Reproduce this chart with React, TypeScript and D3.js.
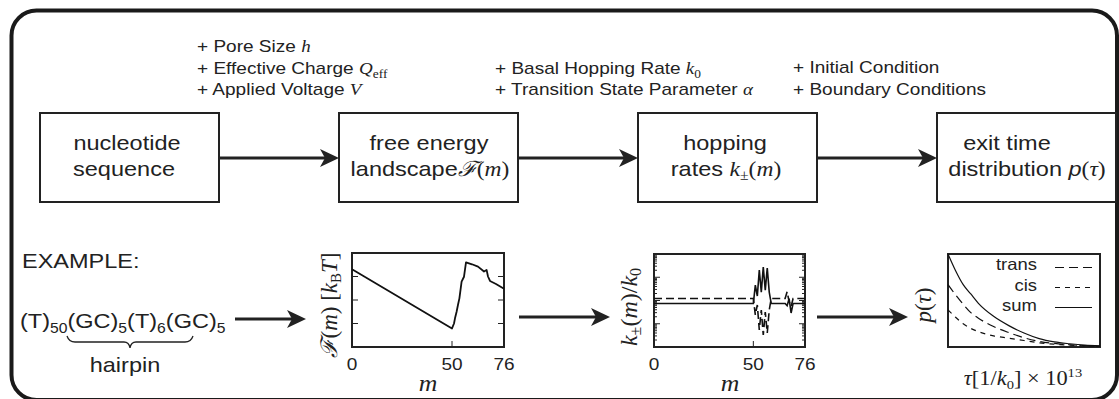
import React from 'react'
import * as d3 from 'd3'

// free energy landscape F(m) [kBT]
const fM = [0, 50, 51, 51.5, 52.3, 53, 53.7, 54.8, 56, 57, 60, 63, 66, 67.3, 68, 69, 72, 76]
const fVal = [3.31, 0.79, 1.0, 1.22, 1.5, 1.8, 2.07, 2.78, 2.99, 3.6, 3.52, 3.42, 3.21, 3.28, 3.0, 2.81, 2.68, 2.48]

// hopping rates k+/k0 (dashed) and k-/k0 (solid)
const kM = [0, 50, 51, 52, 53, 54, 55, 56, 57, 58, 59, 66, 67, 68, 69, 70, 76]
const kPlus = [1.22, 1.22, 0.24, 0.64, 0.054, 0.39, 0.033, 0.32, 0.04, 0.39, 1.22, 1.22, 2.4, 0.9, 0.55, 1.22, 1.22]
const kMinus = [0.74, 0.74, 4.6, 1.56, 20.5, 2.3, 27.6, 2.8, 25, 2.3, 0.74, 0.74, 0.6, 1.2, 0.29, 0.74, 0.74]

// exit time distributions
const tau = [0, 0.5, 1, 1.5, 2, 3, 4, 5, 6, 7, 8, 9, 10]
const pSum = [1.0, 0.82, 0.67, 0.57, 0.47, 0.33, 0.23, 0.15, 0.09, 0.055, 0.035, 0.02, 0.012]
const pTrans = [0.67, 0.56, 0.46, 0.37, 0.31, 0.22, 0.155, 0.1, 0.06, 0.038, 0.024, 0.015, 0.009]
const pCis = [0.4, 0.32, 0.25, 0.2, 0.165, 0.12, 0.095, 0.07, 0.045, 0.03, 0.02, 0.012, 0.007]

const mTicks = [0, 50, 76]
const fTicks = [1, 2, 3]
const legendItems = ['trans', 'cis', 'sum']
const legendDash = ['9,5', '5,5', null]

const SX = 1.12
const SANS = '"Liberation Sans", Arial, Helvetica, sans-serif'
const SERIF = '"Liberation Serif", "DejaVu Serif", serif'

const Txt = ({ x, y, size, anchor = 'start', family = SANS, children }: any) => (
  <text
    transform={`translate(${x},${y}) scale(${SX},1)`}
    fontSize={size}
    fontFamily={family}
    textAnchor={anchor}
    fill="#222"
  >
    {children}
  </text>
)

const Mi = ({ children, italic = true }: any) => (
  <tspan fontFamily={SERIF} fontStyle={italic ? 'italic' : 'normal'}>
    {children}
  </tspan>
)

const Arrow = ({ x1, x2, y }: any) => (
  <g>
    <line x1={x1} x2={x2 - 12} y1={y} y2={y} stroke="#222" strokeWidth={3} />
    <path d={`M${x2},${y} L${x2 - 19},${y - 9} L${x2 - 14},${y} L${x2 - 19},${y + 9} Z`} fill="#222" />
  </g>
)

const boxX = [40, 339, 638, 937]
const boxW = 179
const boxY = 113
const boxH = 89

export default function App() {
  // plot 1
  const x1 = d3.scaleLinear().domain([0, 76]).range([352, 504])
  const y1 = d3.scaleLinear().domain([0, 4]).range([347, 253])
  const fLine = d3
    .line<number>()
    .x((d, i) => x1(fM[i]))
    .y((d) => y1(d))

  // plot 2
  const x2 = d3.scaleLinear().domain([0, 76]).range([654, 805])
  const y2 = d3.scaleLog().domain([0.01, 100]).range([347, 254])
  const kLine = d3
    .line<number>()
    .x((d, i) => x2(kM[i]))
    .y((d) => y2(d))
  const logTicks = y2.ticks()

  // plot 3
  const x3 = d3.scaleLinear().domain([0, 10]).range([948, 1100])
  const y3 = d3.scaleLinear().domain([0, 1]).range([347, 254])
  const pLine = d3
    .line<number>()
    .x((d, i) => x3(tau[i]))
    .y((d) => y3(d))
    .curve(d3.curveMonotoneX)

  return (
    <svg
      width={1119}
      height={399}
      style={{ position: 'absolute', left: 0, top: 0, background: '#fff' }}
    >
      <rect x={11.5} y={10.5} width={1105.5} height={389.5} rx={25} fill="#fff" stroke="#1a1a1a" strokeWidth={4} />

      {/* parameter annotations */}
      <Txt x={197} y={52} size={17}>
        + Pore Size <Mi>h</Mi>
      </Txt>
      <Txt x={197} y={73.5} size={17}>
        + Effective Charge <Mi>Q</Mi>
        <tspan fontFamily={SERIF} fontSize={12} dy={4}>eff</tspan>
      </Txt>
      <Txt x={197} y={95} size={17}>
        + Applied Voltage <Mi>V</Mi>
      </Txt>
      <Txt x={495} y={73.5} size={17}>
        + Basal Hopping Rate <Mi>k</Mi>
        <tspan fontFamily={SERIF} fontSize={12} dy={4}>0</tspan>
      </Txt>
      <Txt x={495} y={95} size={17}>
        + Transition State Parameter  <Mi>α</Mi>
      </Txt>
      <Txt x={793} y={73} size={17}>
        + Initial Condition
      </Txt>
      <Txt x={793} y={94.5} size={17}>
        + Boundary Conditions
      </Txt>

      {/* flow boxes */}
      {boxX.map((bx) => (
        <rect key={bx} x={bx} y={boxY} width={boxW} height={boxH} fill="none" stroke="#222" strokeWidth={2} />
      ))}
      <Txt x={127} y={150} size={21} anchor="middle">nucleotide</Txt>
      <Txt x={124} y={176} size={21} anchor="middle">sequence</Txt>
      <Txt x={429} y={150} size={21} anchor="middle">free energy</Txt>
      <Txt x={430} y={176} size={21} anchor="middle">
        landscape<tspan fontFamily='"DejaVu Serif", serif' fontStyle="italic">ℱ</tspan>
        <Mi italic={false}>(</Mi>
        <Mi>m</Mi>
        <Mi italic={false}>)</Mi>
      </Txt>
      <Txt x={725} y={150} size={21} anchor="middle">hopping</Txt>
      <Txt x={726} y={176} size={21} anchor="middle">
        rates <Mi>k</Mi>
        <tspan fontFamily={SERIF} fontSize={14} dy={4}>±</tspan>
        <tspan fontFamily={SERIF} dy={-4}>(</tspan>
        <Mi>m</Mi>
        <Mi italic={false}>)</Mi>
      </Txt>
      <Txt x={1007} y={150} size={21} anchor="middle">exit time</Txt>
      <Txt x={1027} y={176} size={21} anchor="middle">
        distribution <tspan fontStyle="italic">p</tspan>
        <Mi italic={false}>(</Mi>
        <Mi>τ</Mi>
        <Mi italic={false}>)</Mi>
      </Txt>
      {boxX.slice(0, 3).map((bx, i) => (
        <Arrow key={bx} x1={bx + boxW} x2={boxX[i + 1]} y={158} />
      ))}

      {/* example */}
      <Txt x={22} y={268} size={21}>EXAMPLE:</Txt>
      <Txt x={20} y={328} size={21}>
        (T)<tspan fontSize={14} dy={5}>50</tspan>
        <tspan dy={-5}>(GC)</tspan>
        <tspan fontSize={14} dy={5}>5</tspan>
        <tspan dy={-5}>(T)</tspan>
        <tspan fontSize={14} dy={5}>6</tspan>
        <tspan dy={-5}>(GC)</tspan>
        <tspan fontSize={14} dy={5}>5</tspan>
      </Txt>
      <path
        d="M67,336 Q69,342 75,342 L124,342 Q129,342 130,348 Q131,342 136,342 L185,342 Q191,342 193,336"
        fill="none"
        stroke="#222"
        strokeWidth={1.3}
      />
      <Txt x={125} y={372} size={21} anchor="middle">hairpin</Txt>
      <Arrow x1={235} x2={306} y={319} />
      <Arrow x1={519} x2={610} y={317} />
      <Arrow x1={817} x2={908} y={317} />

      {/* plot 1: free energy */}
      <rect x={352} y={253} width={152} height={94} fill="none" stroke="#222" strokeWidth={2} />
      {fTicks.map((t) => (
        <g key={t} stroke="#222" strokeWidth={1}>
          <line x1={352} x2={358} y1={y1(t)} y2={y1(t)} />
          <line x1={498} x2={504} y1={y1(t)} y2={y1(t)} />
        </g>
      ))}
      {mTicks.map((t) => (
        <g key={t}>
          <line x1={x1(t)} x2={x1(t)} y1={347} y2={341} stroke="#222" strokeWidth={1} />
          <Txt x={x1(t)} y={370} size={17} anchor="middle">{t}</Txt>
        </g>
      ))}
      <path d={fLine(fVal) || ''} fill="none" stroke="#111" strokeWidth={1.8} strokeLinejoin="round" />
      <text transform="translate(337,305) rotate(-90)" fontSize={23} fontFamily={SERIF} textAnchor="middle" fill="#222">
        <tspan fontFamily='"DejaVu Serif", serif' fontStyle="italic">ℱ</tspan>(<tspan fontStyle="italic">m</tspan>) [<tspan fontStyle="italic">k</tspan>
        <tspan fontSize={15} dy={4}>B</tspan>
        <tspan dy={-4} fontStyle="italic">T</tspan>]
      </text>
      <Txt x={428} y={391} size={23} anchor="middle" family={SERIF}>
        <tspan fontStyle="italic">m</tspan>
      </Txt>

      {/* plot 2: hopping rates */}
      <rect x={654} y={254} width={151} height={93} fill="none" stroke="#222" strokeWidth={2} />
      {logTicks.map((t, i) => {
        const major = Math.abs(Math.log10(t) - Math.round(Math.log10(t))) < 1e-6
        const len = major ? 6 : 3
        return (
          <g key={i} stroke="#222" strokeWidth={1}>
            <line x1={654} x2={654 + len} y1={y2(t)} y2={y2(t)} />
            <line x1={805 - len} x2={805} y1={y2(t)} y2={y2(t)} />
          </g>
        )
      })}
      {mTicks.map((t) => (
        <g key={t}>
          <line x1={x2(t)} x2={x2(t)} y1={347} y2={341} stroke="#222" strokeWidth={1} />
          <Txt x={x2(t)} y={370} size={17} anchor="middle">{t}</Txt>
        </g>
      ))}
      <path d={kLine(kPlus) || ''} fill="none" stroke="#111" strokeWidth={1.6} strokeDasharray="8,4" />
      <path d={kLine(kMinus) || ''} fill="none" stroke="#111" strokeWidth={1.6} />
      <text transform="translate(637,307) rotate(-90)" fontSize={24} fontFamily={SERIF} textAnchor="middle" fill="#222">
        <tspan fontStyle="italic">k</tspan>
        <tspan fontSize={16} dy={4}>±</tspan>
        <tspan dy={-4}>(</tspan>
        <tspan fontStyle="italic">m</tspan>)/<tspan fontStyle="italic">k</tspan>
        <tspan fontSize={16} dy={4}>0</tspan>
      </text>
      <Txt x={730} y={391} size={23} anchor="middle" family={SERIF}>
        <tspan fontStyle="italic">m</tspan>
      </Txt>

      {/* plot 3: exit time distribution */}
      <rect x={948} y={254} width={152} height={93} fill="none" stroke="#222" strokeWidth={2} />
      <path d={pLine(pSum) || ''} fill="none" stroke="#111" strokeWidth={1.2} />
      <path d={pLine(pTrans) || ''} fill="none" stroke="#111" strokeWidth={1.2} strokeDasharray="9,5" />
      <path d={pLine(pCis) || ''} fill="none" stroke="#111" strokeWidth={1.2} strokeDasharray="5,5" />
      {legendItems.map((name, i) => (
        <g key={name}>
          <Txt x={1037} y={270 + i * 20.5} size={16.5} anchor="end">{name}</Txt>
          <line
            x1={1055}
            x2={1092}
            y1={267.5 + i * 20}
            y2={267.5 + i * 20}
            stroke="#111"
            strokeWidth={1.2}
            strokeDasharray={legendDash[i] || undefined}
          />
        </g>
      ))}
      <text transform="translate(931,305) rotate(-90)" fontSize={23} fontFamily={SERIF} textAnchor="middle" fill="#222">
        <tspan fontStyle="italic">p</tspan>(<tspan fontStyle="italic">τ</tspan>)
      </text>
      <Txt x={1023} y={385} size={20} anchor="middle" family={SERIF}>
        <tspan fontStyle="italic">τ</tspan>[1/<tspan fontStyle="italic">k</tspan>
        <tspan fontSize={13} dy={4}>0</tspan>
        <tspan dy={-4}>] × 10</tspan>
        <tspan fontSize={13} dy={-8}>13</tspan>
      </Txt>
    </svg>
  )
}
